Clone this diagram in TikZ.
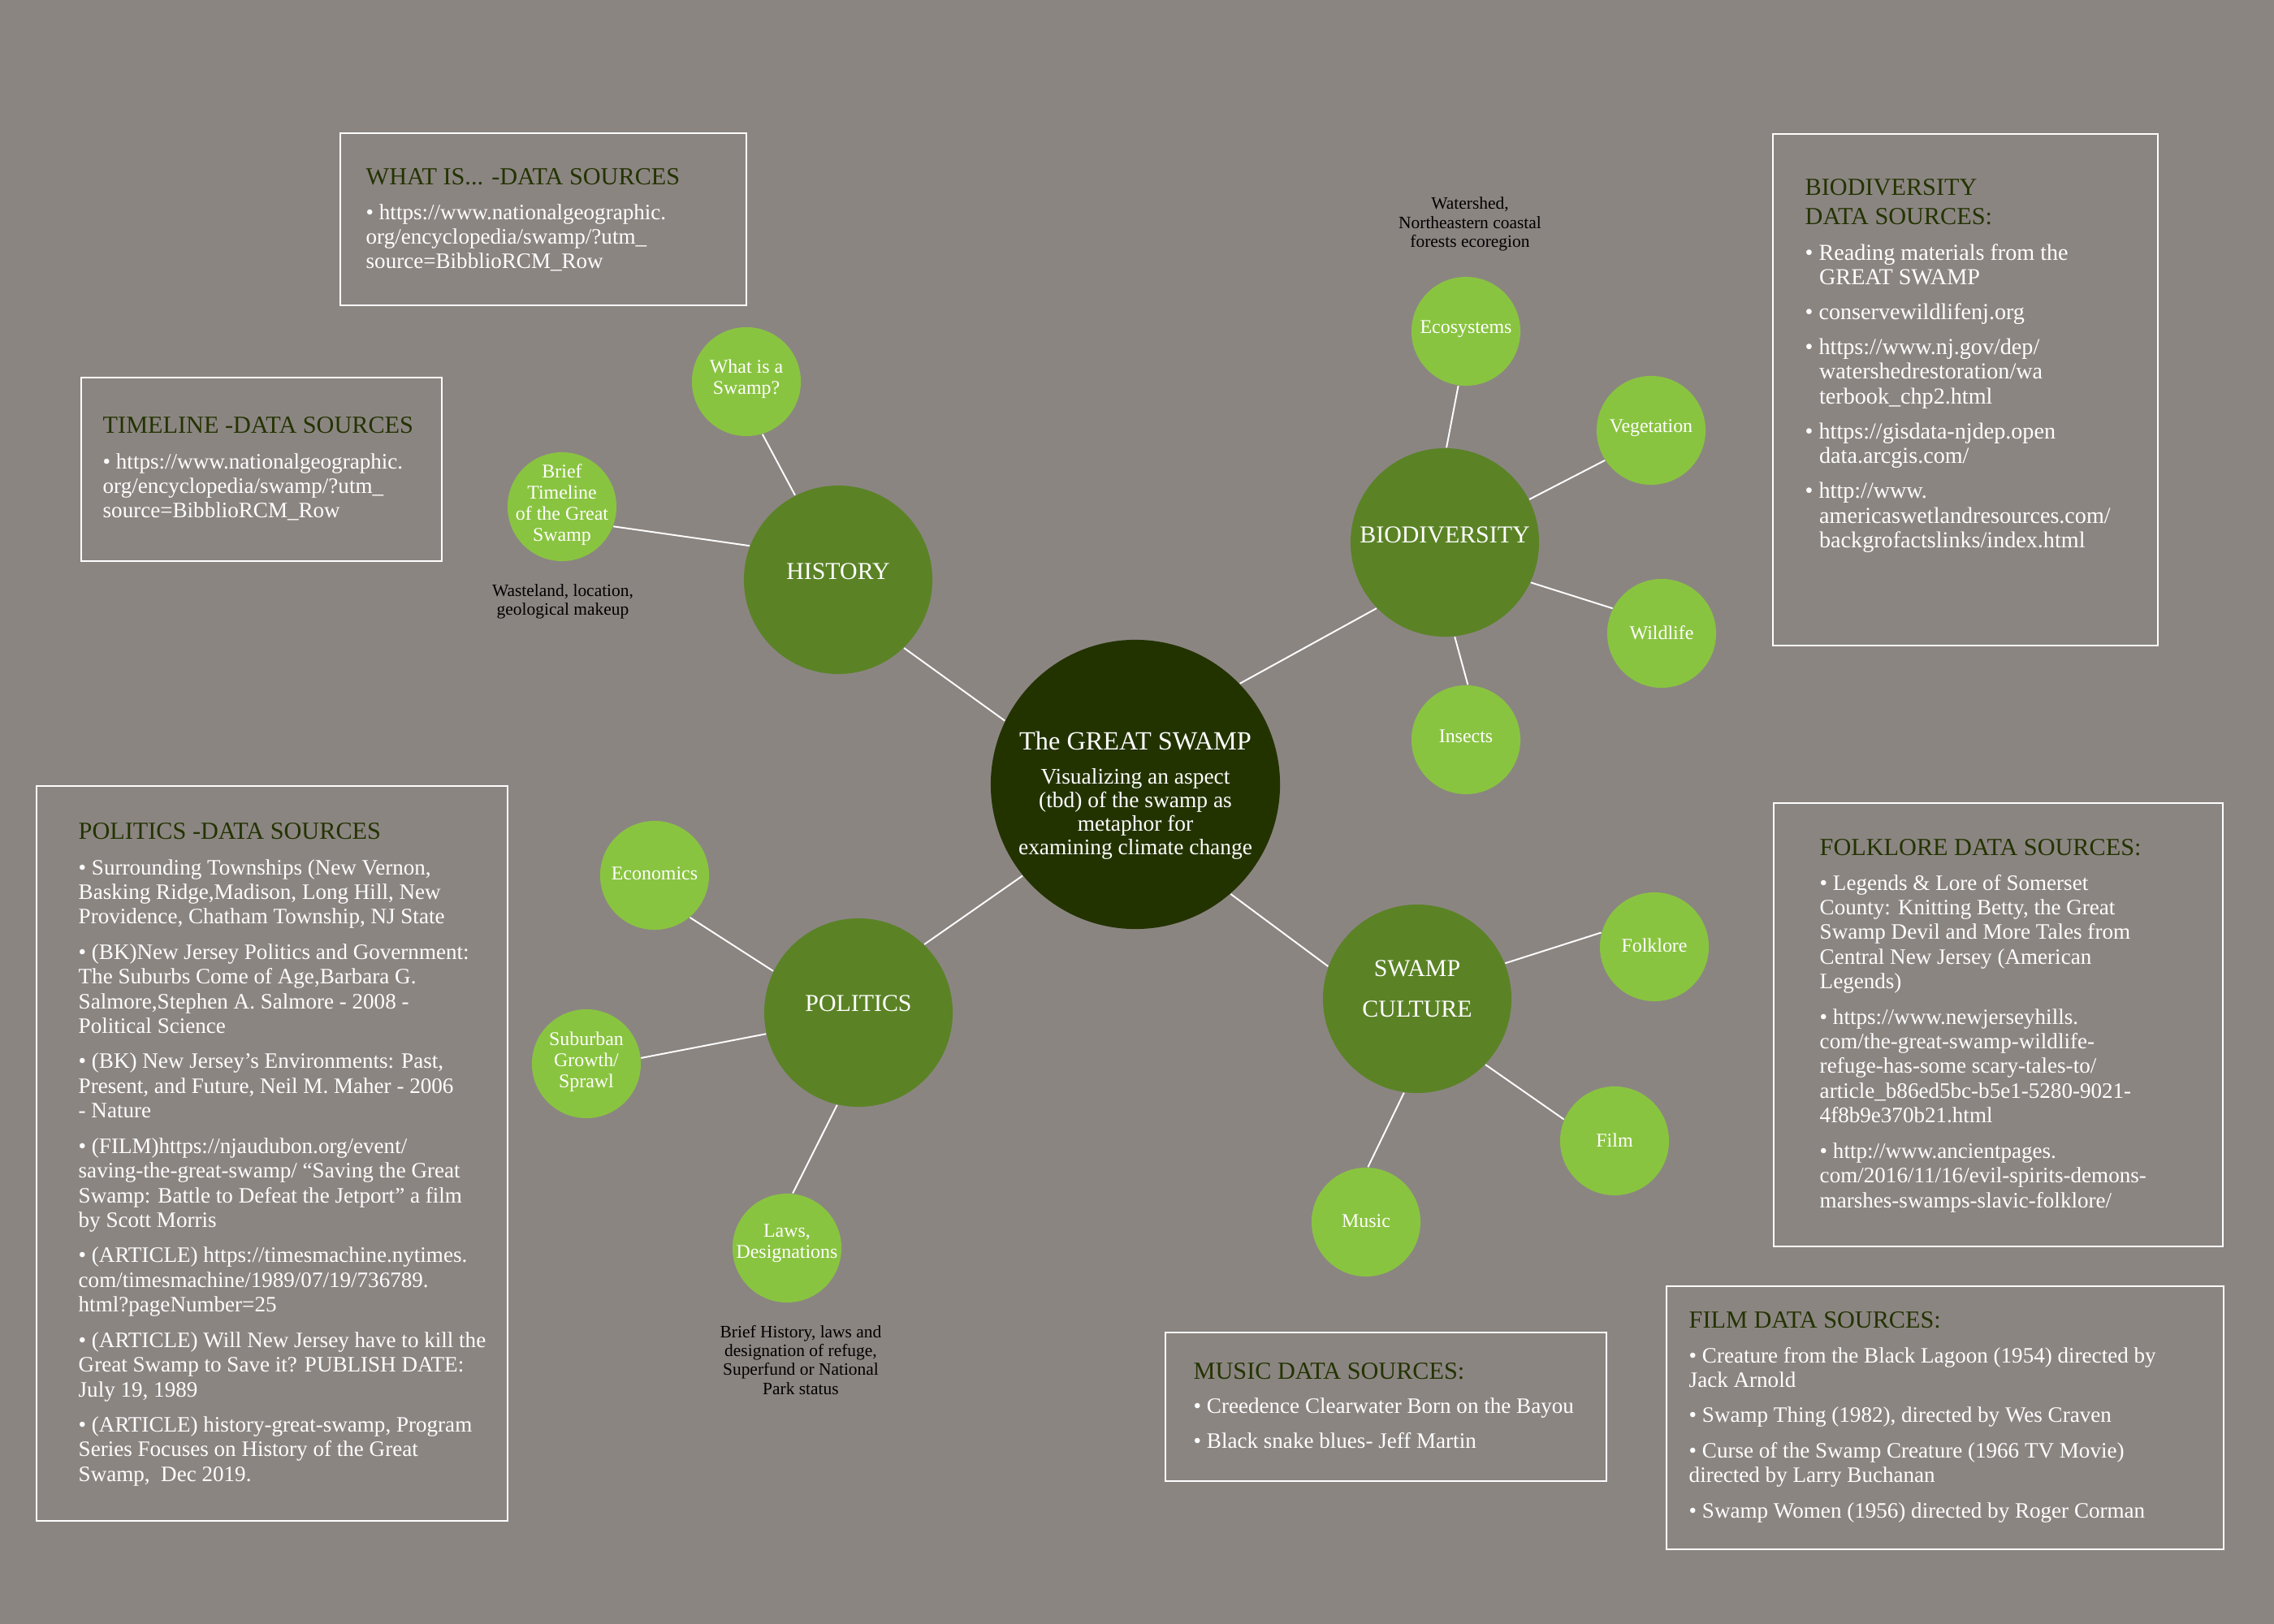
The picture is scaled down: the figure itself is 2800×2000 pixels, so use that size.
\documentclass[tikz,border=0pt]{standalone}
\usepackage{fontspec}
\setmainfont{Liberation Serif}
\usetikzlibrary{calc}
\definecolor{bgc}{RGB}{139,133,130}
\definecolor{darkg}{RGB}{35,51,0}
\definecolor{midg}{RGB}{91,131,38}
\definecolor{lightg}{RGB}{137,196,64}
\newcommand{\myfs}[2]{\fontsize{#1}{#2}\selectfont}
\newcommand{\bioind}{\hspace*{0.62em}}
\newcommand{\ltab}[1]{\begin{tabular}[t]{@{}l@{}}#1\end{tabular}}
\newcommand{\ctab}[1]{\begin{tabular}[t]{@{}c@{}}#1\end{tabular}}
\begin{document}
\begin{tikzpicture}[x=0.01cm,y=-0.01cm,
  hub/.style={circle,fill=darkg,minimum size=3.56cm,inner sep=0pt},
  topic/.style={circle,fill=midg,minimum size=2.32cm,inner sep=0pt},
  leaf/.style={circle,fill=lightg,minimum size=1.34cm,inner sep=0pt},
  leaflbl/.style={text=white,align=center,inner sep=0pt,font=\myfs{6.8}{7.4}},
  topiclbl/.style={text=white,align=center,inner sep=0pt,font=\myfs{8.5}{14.2}},
  note/.style={text=black,inner sep=0pt,anchor=base,font=\myfs{6.1}{6.65}},
  link/.style={draw=white,line width=0.55pt},
  srcbox/.style={draw=white,line width=0.6pt,inner sep=0pt},
  boxtitle/.style={text=darkg,inner sep=0pt,anchor=base west,font=\myfs{8.6}{10.1}},
  boxbody/.style={text=white,inner sep=0pt,anchor=base west,font=\myfs{7.7}{8.65}},
]
\useasboundingbox (0,0) rectangle (2800,2000);
\fill[bgc] (0,0) rectangle (2800,2000);

% ---------- source boxes ----------
\node[srcbox,minimum width=5.00cm,minimum height=2.12cm] (whatbox) at (669,270) {};
\node[boxtitle] (whatT) at (450,228) {WHAT IS... -DATA SOURCES};
\node[boxbody] (whatB) at (450,270) {\ltab{• https://www.nationalgeographic.\\org/encyclopedia/swamp/?utm\_\\source=BibblioRCM\_Row}};

\node[srcbox,minimum width=4.44cm,minimum height=2.26cm] (tlbox) at (322,578) {};
\node[boxtitle] (tlT) at (126,533) {TIMELINE -DATA SOURCES};
\node[boxbody] (tlB) at (126,577) {\ltab{• https://www.nationalgeographic.\\org/encyclopedia/swamp/?utm\_\\source=BibblioRCM\_Row}};

\node[srcbox,minimum width=4.74cm,minimum height=6.30cm] (biobox) at (2420,480) {};
\node[boxtitle] (bioT) at (2222,240.5) {\ltab{BIODIVERSITY\\DATA SOURCES:}};
\node[boxbody,font=\myfs{8.0}{8.55}] (bioB) at (2222,320) {\ltab{• Reading materials from the\\\bioind GREAT SWAMP\\[3.8pt]
• conservewildlifenj.org\\[3.8pt]
• https://www.nj.gov/dep/\\\bioind watershedrestoration/wa\\\bioind terbook\_chp2.html\\[3.8pt]
• https://gisdata-njdep.open\\\bioind data.arcgis.com/\\[3.8pt]
• http://www.\\\bioind americaswetlandresources.com/\\\bioind backgrofactslinks/index.html}};

\node[srcbox,minimum width=5.80cm,minimum height=9.05cm] (polbox) at (335,1420.5) {};
\node[boxtitle] (polT) at (96,1033) {POLITICS -DATA SOURCES};
\node[boxbody] (polB) at (96,1077) {\ltab{• Surrounding Townships (New Vernon,\\Basking Ridge,Madison, Long Hill, New\\Providence, Chatham Township, NJ State\\[3.7pt]
• (BK)New Jersey Politics and Government:\\The Suburbs Come of Age,Barbara G.\\Salmore,Stephen A. Salmore - 2008 -\\Political Science\\[3.7pt]
• (BK) New Jersey’s Environments: Past,\\Present, and Future, Neil M. Maher - 2006\\- Nature\\[3.7pt]
• (FILM)https://njaudubon.org/event/\\saving-the-great-swamp/ “Saving the Great\\Swamp: Battle to Defeat the Jetport” a film\\by Scott Morris\\[3.7pt]
• (ARTICLE) https://timesmachine.nytimes.\\com/timesmachine/1989/07/19/736789.\\html?pageNumber=25\\[3.7pt]
• (ARTICLE) Will New Jersey have to kill the\\Great Swamp to Save it? PUBLISH DATE:\\July 19, 1989\\[3.7pt]
• (ARTICLE) history-great-swamp, Program\\Series Focuses on History of the Great\\Swamp,~ Dec 2019.}};

\node[srcbox,minimum width=5.53cm,minimum height=5.46cm] (folkbox) at (2460.5,1262) {};
\node[boxtitle] (folkT) at (2240,1053) {FOLKLORE DATA SOURCES:};
\node[boxbody] (folkB) at (2240,1096) {\ltab{• Legends \& Lore of Somerset\\County: Knitting Betty, the Great\\Swamp Devil and More Tales from\\Central New Jersey (American\\Legends)\\[3.7pt]
• https://www.newjerseyhills.\\com/the-great-swamp-wildlife-\\refuge-has-some scary-tales-to/\\article\_b86ed5bc-b5e1-5280-9021-\\4f8b9e370b21.html\\[3.7pt]
• http://www.ancientpages.\\com/2016/11/16/evil-spirits-demons-\\marshes-swamps-slavic-folklore/}};

\node[srcbox,minimum width=6.86cm,minimum height=3.24cm] (filmbox) at (2395,1746) {};
\node[boxtitle] (filmT) at (2079,1635) {FILM DATA SOURCES:};
\node[boxbody] (filmB) at (2079,1678) {\ltab{• Creature from the Black Lagoon (1954) directed by\\Jack Arnold\\[3.7pt]
• Swamp Thing (1982), directed by Wes Craven\\[3.7pt]
• Curse of the Swamp Creature (1966 TV Movie)\\directed by Larry Buchanan\\[3.7pt]
• Swamp Women (1956) directed by Roger Corman}};

\node[srcbox,minimum width=5.43cm,minimum height=1.83cm] (musicbox) at (1706.5,1732.5) {};
\node[boxtitle] (musicT) at (1469,1698) {MUSIC DATA SOURCES:};
\node[boxbody] (musicB) at (1469,1740) {\ltab{• Creedence Clearwater Born on the Bayou\\[3.7pt]
• Black snake blues- Jeff Martin}};

% ---------- circles ----------
\node[hub] (gs) at (1398,966) {};
\node[text=white,inner sep=0pt,anchor=base,font=\myfs{9.2}{10}] (gsT) at (1398,923) {The GREAT SWAMP};
\node[text=white,inner sep=0pt,anchor=base,font=\myfs{7.8}{8.3}] (gsS) at (1398,965) {\ctab{Visualizing an aspect\\(tbd) of the swamp as\\metaphor for\\examining climate change}};

\node[topic] (hist) at (1032,714) {};
\node[topiclbl] (histL) at (1032,704) {HISTORY};
\node[topic] (bio) at (1779,668) {};
\node[topiclbl] (bioL) at (1779,659) {BIODIVERSITY};
\node[topic] (pol) at (1057,1247) {};
\node[topiclbl] (polL) at (1057,1236) {POLITICS};
\node[topic] (cult) at (1745,1230) {};
\node[topiclbl] (cultL) at (1745,1218) {SWAMP\\CULTURE};

\node[leaf] (what) at (919,470) {};
\node[leaflbl] (whatL) at (919,467) {What is a\\Swamp?};
\node[leaf] (tline) at (692,624) {};
\node[leaflbl] (tlineL) at (692,622) {Brief\\Timeline\\of the Great\\Swamp};
\node[leaf] (eco) at (1805,408) {};
\node[leaflbl] (ecoL) at (1805,405) {Ecosystems};
\node[leaf] (veg) at (2033,530) {};
\node[leaflbl] (vegL) at (2033,527) {Vegetation};
\node[leaf] (wild) at (2046,780) {};
\node[leaflbl] (wildL) at (2046,779) {Wildlife};
\node[leaf] (ins) at (1805,911) {};
\node[leaflbl] (insL) at (1805,907) {Insects};
\node[leaf] (econ) at (806,1078) {};
\node[leaflbl] (econL) at (806,1076) {Economics};
\node[leaf] (sub) at (722,1310) {};
\node[leaflbl] (subL) at (722,1308) {Suburban\\Growth/\\Sprawl};
\node[leaf] (laws) at (969,1537) {};
\node[leaflbl] (lawsL) at (969,1531) {Laws,\\Designations};
\node[leaf] (folk) at (2037,1166) {};
\node[leaflbl] (folkL) at (2037,1164) {Folklore};
\node[leaf] (film) at (1988,1405) {};
\node[leaflbl] (filmL) at (1988,1404) {Film};
\node[leaf] (music) at (1682,1505) {};
\node[leaflbl] (musicL) at (1682,1504) {Music};

% ---------- notes ----------
\node[note] (wasteN) at (693,734) {\ctab{Wasteland, location,\\geological makeup}};
\node[note] (waterN) at (1810,258) {\ctab{Watershed,\\Northeastern coastal\\forests ecoregion}};
\node[note] (lawsN) at (986,1647) {\ctab{Brief History, laws and\\designation of refuge,\\Superfund or National\\Park status}};

% ---------- connectors ----------
\draw[link] (gs.154) -- (hist.314);
\draw[link] (gs.44) -- (bio.224);
\draw[link] (gs.219) -- (pol.46);
\draw[link] (gs.311) -- (cult.160);
\draw[link] (hist.117) -- (what.287);
\draw[link] (hist.159) -- (tline.339);
\draw[link] (bio.89) -- (eco.262);
\draw[link] (bio.27) -- (veg.213);
\draw[link] (bio.335) -- (wild.153);
\draw[link] (bio.276) -- (ins.88);
\draw[link] (pol.154) -- (econ.310);
\draw[link] (pol.193) -- (sub.6);
\draw[link] (pol.257) -- (laws.84);
\draw[link] (cult.22) -- (folk.165);
\draw[link] (cult.316) -- (film.157);
\draw[link] (cult.262) -- (music.88);
\end{tikzpicture}
\end{document}
